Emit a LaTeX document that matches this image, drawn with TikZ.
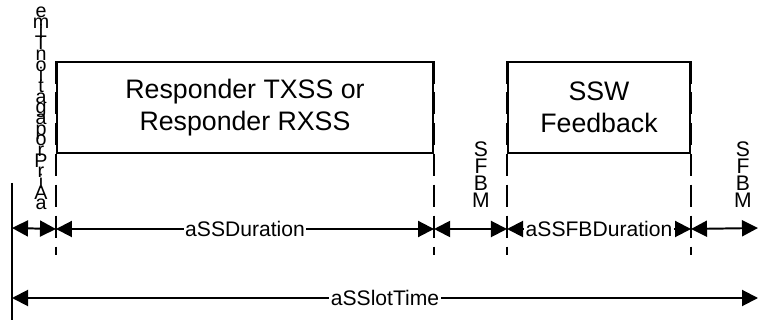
\documentclass[tikz,border=0pt]{standalone}
\usepackage{fontspec}
\setmainfont{Liberation Sans}
\usetikzlibrary{arrows.meta,positioning}
\tikzset{
  every picture/.style={line width=1.4pt, x=0.025cm, y=-0.025cm},
  slot/.style={draw=black, align=center, minimum height=2.275cm, inner sep=0pt,
    font=\fontsize{19}{23}\selectfont},
  edge/.style={line width=2pt, dash pattern=on 16pt off 6pt},
  span/.style={{Triangle[length=0.4cm,width=0.4cm]}-{Triangle[length=0.4cm,width=0.4cm]}},
  dur/.style={font=\fontsize{15}{18}\selectfont, fill=white, inner sep=1pt},
  stack/.style={align=center, inner sep=0pt, font=\fontsize{14}{#1}\selectfont,
    execute at begin node={\lineskiplimit=-20pt\relax}},
  stack/.default=7.6pt,
}
\begin{document}
\begin{tikzpicture}
  \useasboundingbox (0,0) rectangle (760,320);
  % slots
  \node[slot, minimum width=9.4cm] (txss) at (245,107.5) {Responder TXSS or\\Responder RXSS};
  \node[slot, minimum width=4.55cm] (ssw) at (599,107.5) {SSW\\Feedback};
  % vertical names
  \node[stack, anchor=north] (prop) at (41,6) {e\\m\\i\\T\\n\\o\\i\\t\\a\\g\\a\\p\\o\\r\\P\\r\\i\\A\\a};
  \node[stack=11.9pt, font=\fontsize{15}{11.9}\selectfont, anchor=south] (mbifs1) at (481,208) {S\\F\\B\\M};
  \node[stack=11.9pt, font=\fontsize{15}{11.9}\selectfont, anchor=south] (mbifs2) at (743,208) {S\\F\\B\\M};
  % boundaries
  \draw[edge] (txss.north west) -- ++(0,194);
  \draw[edge] (txss.north east) -- ++(0,194);
  \draw[edge] (ssw.north west) -- ++(0,194);
  \draw[edge] (ssw.north east) -- ++(0,194);
  \coordinate (start) at (12,183);
  \coordinate (foot) at (12,320);
  \draw (start) -- (foot);
  % durations
  \coordinate (d0) at (12,228);
  \path (txss.south west) ++(0,75) coordinate (d1);
  \path (txss.south east) ++(0,75) coordinate (d2);
  \path (ssw.south west) ++(0,75) coordinate (d3);
  \path (ssw.south east) ++(0,75) coordinate (d4);
  \coordinate (d5) at (758,228);
  \draw[span] (d0) -- (d1);
  \draw[span] (d1) -- node[dur] {aSSDuration} (d2);
  \draw[span] (d2) -- (d3);
  \draw[span] (d3) -- node[dur] {aSSFBDuration} (d4);
  \draw[span] (d4) -- (d5);
  \coordinate (s0) at (12,298);
  \coordinate (s1) at (758,298);
  \draw[span] (s0) -- node[dur] {aSSlotTime} (s1);
\end{tikzpicture}
\end{document}
